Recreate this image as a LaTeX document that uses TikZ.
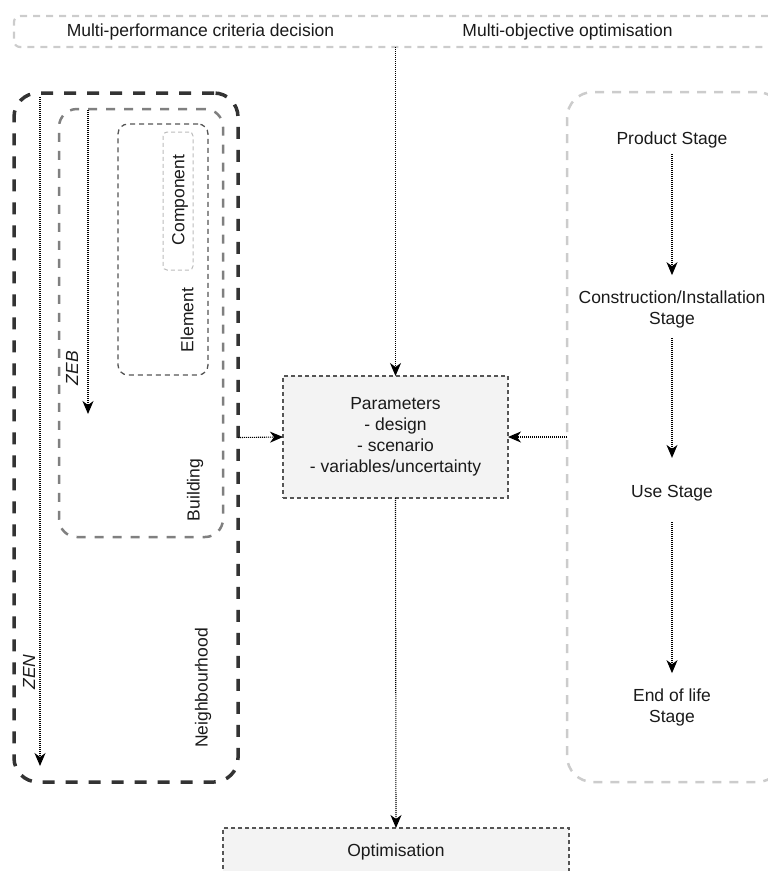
\documentclass[tikz,border=0pt]{standalone}
\usepackage{fontspec}
\setmainfont{Liberation Sans}
\usetikzlibrary{arrows.meta}
\definecolor{txtc}{HTML}{1A1A1A}
\definecolor{nbhc}{HTML}{333333}
\definecolor{bldc}{HTML}{808080}
\definecolor{elemc}{HTML}{555555}
\definecolor{compc}{HTML}{BBBBBB}
\definecolor{lightc}{HTML}{CCCCCC}
\definecolor{pfill}{HTML}{F3F3F3}
\begin{document}
\begin{tikzpicture}[x=1pt,y=-1pt,
  every node/.style={font=\fontsize{17.5}{21}\selectfont, text=txtc},
  frame/.style={draw, inner sep=0pt, outer sep=0pt},
  topbox/.style={frame, draw=lightc, line width=2.2pt, dash pattern=on 7pt off 6pt, rounded corners=6pt},
  nbhbox/.style={frame, draw=nbhc, line width=3.5pt, dash pattern=on 12pt off 11pt, rounded corners=24pt},
  bldbox/.style={frame, draw=bldc, line width=2.5pt, dash pattern=on 9pt off 9pt, rounded corners=18pt},
  elembox/.style={frame, draw=elemc, line width=1.3pt, dash pattern=on 5pt off 4pt, rounded corners=10pt},
  compbox/.style={frame, draw=compc, line width=1pt, dash pattern=on 4pt off 3pt, rounded corners=4pt},
  stagebox/.style={frame, draw=lightc, line width=2.5pt, dash pattern=on 9pt off 8pt, rounded corners=26pt},
  procbox/.style={frame, draw=elemc, fill=pfill, line width=1.2pt, dash pattern=on 4pt off 3pt},
  lbl/.style={inner sep=0pt},
  arr/.style={draw=black, line width=1.1pt, dash pattern=on 1pt off 1pt,
    -{Stealth[length=13pt,width=11pt,inset=4pt]}}
]
\useasboundingbox (0,0) rectangle (768,871);
\clip (0,0) rectangle (768,871);

% top bar
\node[topbox, minimum width=786, minimum height=31] (top) at (407,31.5) {};
\node[lbl] (mpcd) at (200.5,32) {Multi-performance criteria decision};
\node[lbl] (moo) at (567.5,32) {Multi-objective optimisation};

% nested boxes
\node[nbhbox, minimum width=224, minimum height=689] (nbh) at (126,437.5) {};
\node[bldbox, minimum width=164, minimum height=428] (bld) at (141,323) {};
\node[elembox, minimum width=90, minimum height=251] (elem) at (163,249.5) {};
\node[compbox, minimum width=30, minimum height=138] (comp) at (178,201) {};

\node[lbl, rotate=90] (complbl) at (180,200) {Component};
\node[lbl, rotate=90] (elemlbl) at (187,320) {Element};
\node[lbl, rotate=90] (bldlbl) at (195,490) {Building};
\node[lbl, rotate=90] (nbhlbl) at (203,688) {Neighbourhood};
\node[lbl, rotate=90, font=\fontsize{17.5}{21}\selectfont\itshape] (zeb) at (72,368) {ZEB};
\node[lbl, rotate=90, font=\fontsize{17.5}{21}\selectfont\itshape] (zen) at (29,672) {ZEN};

\coordinate (zebS) at (88,110);
\coordinate (zebE) at (88,414);
\coordinate (zenS) at (40,97);
\coordinate (zenE) at (40,766);
\draw[arr] (zebS) -- (zebE);
\draw[arr] (zenS) -- (zenE);

% parameters
\node[procbox, minimum width=225, minimum height=122, align=center] (params) at (395.5,437)
  {Parameters\\- design\\- scenario\\- variables/uncertainty};

% optimisation
\node[procbox, minimum width=346, minimum height=48] (opt) at (396,852) {Optimisation};

% stages
\node[stagebox, minimum width=216, minimum height=690] (stages) at (675,437) {};
\node[lbl] (prod) at (672,140) {Product Stage};
\node[lbl, align=center] (cons) at (672,309) {Construction/Installation\\Stage};
\node[lbl] (use) at (672,493) {Use Stage};
\node[lbl, align=center] (eol) at (672,707) {End of life\\Stage};

\draw[arr, shorten <=6pt, shorten >=15pt] (prod.south) -- (cons.north);
\draw[arr, shorten <=10pt, shorten >=27pt] (cons.south) -- (use.north);
\draw[arr, shorten <=21pt, shorten >=15pt] (use.south) -- (eol.north);

% connectors
\draw[arr] (top.south -| params.north) -- (params.north);
\draw[arr] (nbh.east) -- (params.west);
\draw[arr] (stages.west) -- (params.east);
\draw[arr] (params.south) -- (opt.north);
\end{tikzpicture}
\end{document}
